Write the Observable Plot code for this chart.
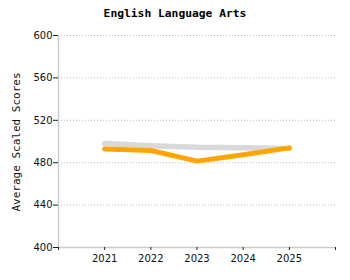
<!DOCTYPE html>
<html><head><meta charset="utf-8">
<script src="https://cdn.jsdelivr.net/npm/d3@7"></script>
<script src="https://cdn.jsdelivr.net/npm/@observablehq/plot@0.6"></script>
<style>
body{margin:0;background:#fff;width:350px;height:280px;overflow:hidden;position:relative}
#title{height:24px;padding-top:7px;box-sizing:border-box;line-height:13px;text-align:center;font:bold 11.3px "DejaVu Sans Mono",monospace;color:#000}
#ylab{position:absolute;left:16px;top:142px;transform:translate(-50%,-50%) rotate(-90deg);font:11px "DejaVu Sans Mono",monospace;white-space:nowrap;color:#111}
</style></head><body>
<div id="title">English Language Arts</div>
<div id="ylab">Average Scaled Scores</div>
<div id="chart"></div>
<script>
const years = [2021, 2022, 2023, 2024, 2025];
const stateScores = [498, 496, 494.5, 494, 493.5];
const schoolScores = [493, 491.5, 481.5, 487.5, 494];
const yTicks = [400, 440, 480, 520, 560, 600];
const xTicks = [2020, 2021, 2022, 2023, 2024, 2025, 2026];

const gray = years.map((y, i) => ({year: y, score: stateScores[i]}));
const orange = years.map((y, i) => ({year: y, score: schoolScores[i]}));

const chart = Plot.plot({
  width: 350, height: 256,
  marginLeft: 58, marginRight: 15, marginTop: 11, marginBottom: 33,
  style: {fontFamily: "DejaVu Sans", fontSize: "10px", color: "#111", background: "#fff"},
  x: {domain: [2020, 2026]},
  y: {domain: [400, 600]},
  marks: [
    Plot.ruleY(yTicks.filter(d => d > 400), {stroke: "#bbb", strokeDasharray: "1,2", strokeWidth: 1}),
    Plot.ruleX([2020], {stroke: "#ccc", strokeWidth: 1.5}),
    Plot.ruleY([400], {stroke: "#ccc", strokeWidth: 1.5}),
    Plot.axisY({ticks: yTicks, tickSize: 5, tickPadding: 1, tickFormat: d => d, label: null, stroke: "#222"}),
    Plot.axisX({ticks: xTicks, tickSize: 3, tickPadding: 4, tickFormat: d => (d > 2020 && d < 2026 ? String(d) : ""), label: null, stroke: "#222"}),
    Plot.line(gray, {x: "year", y: "score", stroke: "#d9d9d9", strokeWidth: 5.5}),
    Plot.line(orange, {x: "year", y: "score", stroke: "#ffa500", strokeWidth: 5})
  ]
});
document.getElementById("chart").appendChild(chart);
</script></body></html>
